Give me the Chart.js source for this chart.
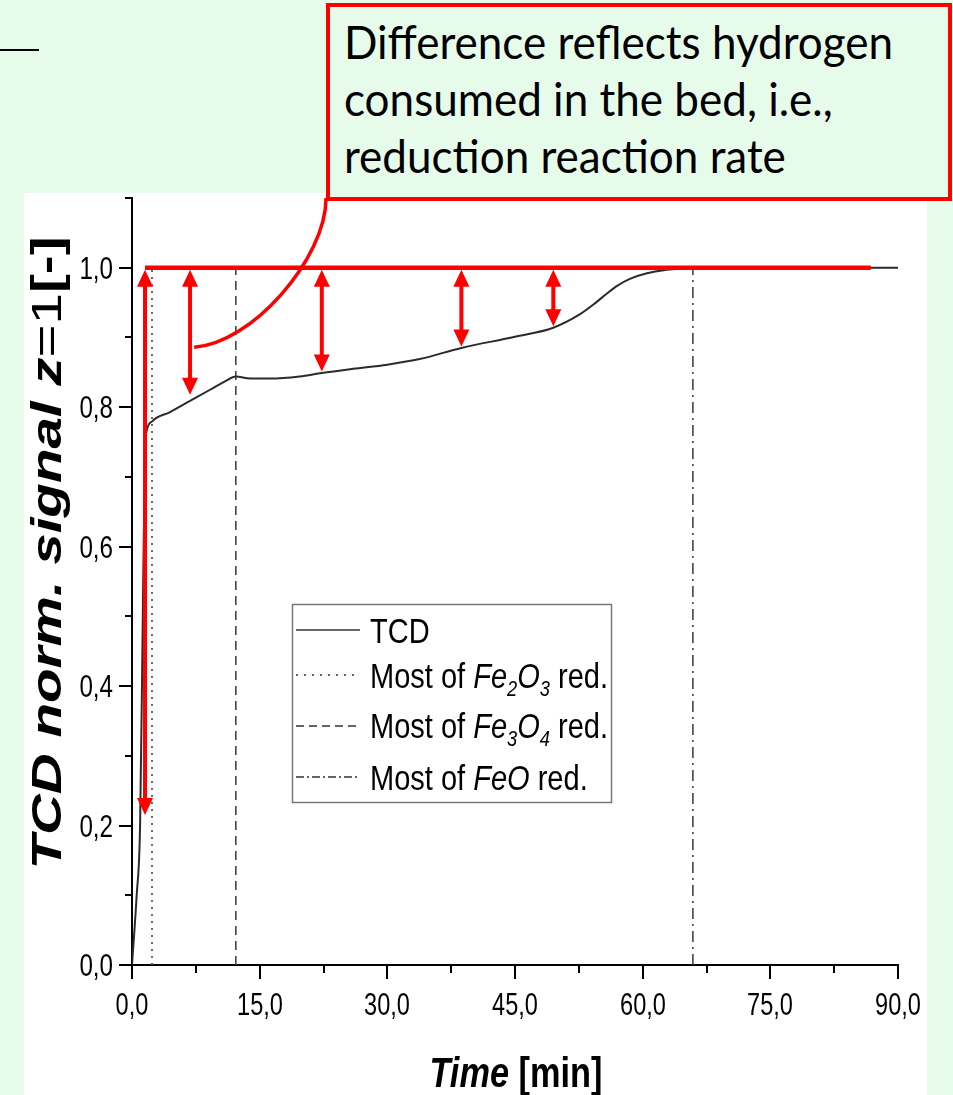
<!DOCTYPE html>
<html>
<head>
<meta charset="utf-8">
<script src="https://cdn.jsdelivr.net/npm/chart.js@4.4.1/dist/chart.umd.min.js"></script>
<style>
  html, body { margin: 0; padding: 0; }
  body { width: 953px; height: 1095px; background: #e7fbeb; position: relative; overflow: hidden; }
  #topline { position: absolute; left: 0; top: 49px; width: 39px; height: 2px; background: #000; }
  #panel { position: absolute; left: 24px; top: 193px; width: 903px; height: 902px; background: #fff; }
  #callout { position: absolute; left: 326px; top: 3px; width: 626px; height: 198px; box-sizing: border-box;
             border: 4px solid #ff0000; background: #e7fbeb; }
  #callout .ln { position: absolute; left: 14px; font-family: Lato, "Open Sans", sans-serif; font-size: 46px;
                 line-height: 57px; white-space: nowrap; transform-origin: 0 0; color: #000; }
  #c { position: absolute; left: 0; top: 0; }
</style>
</head>
<body>
<div id="topline"></div>
<div id="panel"></div>
<div id="callout">
  <div class="ln" style="top:6px"><span>Difference reflects hydrogen</span></div>
  <div class="ln" style="top:63px"><span>consumed in the bed, i.e.,</span></div>
  <div class="ln" style="top:120px"><span>reduction reaction rate</span></div>
</div>
<canvas id="c" width="953" height="1095"></canvas>
<script>
// 数据
const tcdTime   = [0, 0.55, 0.95, 1.25, 1.53, 1.72, 2.4, 4.47, 6.82, 9.17, 10.93, 12.2, 13.87, 16.2, 19.7, 22.3, 26, 30, 33.8, 38.7, 45, 49.5, 52.6, 54.5, 55.8, 57.0, 58.5, 60.5, 62.8, 64.4, 66, 75, 90];
const tcdSignal = [0, 0.10, 0.20, 0.48, 0.739, 0.766, 0.780, 0.793, 0.809, 0.825, 0.837, 0.844, 0.841, 0.841, 0.844, 0.849, 0.855, 0.861, 0.869, 0.885, 0.901, 0.914, 0.933, 0.950, 0.963, 0.974, 0.984, 0.992, 0.997, 0.999, 1.0, 1.0, 1.0];

// 各阶段结束时间: Fe2O3, Fe3O4, FeO
const stageTimes = [2.35, 12.2, 65.9];
const stageDash = [[2, 5], [9, 6], [11, 5, 2, 5]];

// 红色参考线 (y = 1)
const refLevel = 1.0;
const refStart = 1.53;
const refEnd = 86.8;

// 双向箭头
const arrowTimes = [1.53, 6.82, 22.3, 38.7, 49.5];
const arrowLows  = [0.215, 0.818, 0.851, 0.887, 0.916];

// 标注框引线 (bezier, 数据坐标)
const calloutPath = [[7.3, 0.886], [13.9, 0.89], [22.8, 1.012], [22.8, 1.10]];

// 坐标轴
const xMin = 0, xMax = 90, xStep = 7.5, xMajor = 15;
const yMin = 0, yMax = 1.1, yStep = 0.1;

const legendRows = [
  [{ t: 'TCD' }],
  [{ t: 'Most of ' }, { t: 'Fe', i: 1 }, { t: '2', i: 1, sub: 1 }, { t: 'O', i: 1 }, { t: '3', i: 1, sub: 1 }, { t: ' red.' }],
  [{ t: 'Most of ' }, { t: 'Fe', i: 1 }, { t: '3', i: 1, sub: 1 }, { t: 'O', i: 1 }, { t: '4', i: 1, sub: 1 }, { t: ' red.' }],
  [{ t: 'Most of ' }, { t: 'FeO', i: 1 }, { t: ' red.' }]
];
const legendDash = [[], [2, 6], [8, 5], [8, 3, 2, 3]];

const FONT = '"Liberation Sans", Arial, sans-serif';

// 把标注框文字压缩到原图宽度
(function fitCallout() {
  const spans = document.querySelectorAll('#callout .ln span');
  const k = 549 / spans[0].getBoundingClientRect().width;
  document.querySelectorAll('#callout .ln').forEach(d => d.style.transform = `scaleX(${k})`);
})();

function fontOf(r, size) {
  const s = r.sub ? Math.round(size * 0.62) : size;
  return (r.i ? 'italic ' : '') + (r.b ? 'bold ' : '') + s + 'px ' + FONT;
}
function runsWidth(ctx, runs, size) {
  let w = 0;
  for (const r of runs) { ctx.font = fontOf(r, size); w += ctx.measureText(r.t).width; }
  return w;
}
function drawRuns(ctx, runs, x, y, size, opt) {
  const w = runsWidth(ctx, runs, size);
  const k = opt.fit ? opt.fit / w : (opt.squeeze || 1);
  ctx.save();
  ctx.translate(x, y);
  if (opt.rotate) ctx.rotate(opt.rotate);
  ctx.scale(k, 1);
  let cx = opt.align === 'center' ? -w / 2 : opt.align === 'right' ? -w : 0;
  ctx.textAlign = 'left';
  ctx.textBaseline = 'alphabetic';
  ctx.fillStyle = '#000';
  for (const r of runs) {
    ctx.font = fontOf(r, size);
    ctx.fillText(r.t, cx, r.sub ? size * 0.24 : 0);
    cx += ctx.measureText(r.t).width;
  }
  ctx.restore();
  return k;
}
function fmt(v) { return v.toFixed(1).replace('.', ','); }

function arrowHead(ctx, x, tipY, dir) {
  // dir = -1 朝上, 1 朝下
  ctx.beginPath();
  ctx.moveTo(x, tipY);
  ctx.lineTo(x - 8, tipY - dir * 17);
  ctx.lineTo(x + 8, tipY - dir * 17);
  ctx.closePath();
  ctx.fill();
}

const decor = {
  id: 'decor',
  afterDraw(chart) {
    const ctx = chart.ctx;
    const xs = chart.scales.x, ys = chart.scales.y;
    const area = chart.chartArea;

    // 刻度线 + 刻度标签
    ctx.save();
    ctx.strokeStyle = '#000';
    ctx.lineWidth = 2;
    for (const t of xs.ticks) {
      const px = Math.round(xs.getPixelForValue(t.value));
      const major = Math.abs(t.value / xMajor - Math.round(t.value / xMajor)) < 1e-6;
      ctx.beginPath();
      ctx.moveTo(px, area.bottom);
      ctx.lineTo(px, area.bottom + (major ? 14 : 8));
      ctx.stroke();
      if (major) drawRuns(ctx, [{ t: fmt(t.value) }], px, 1015, 31, { squeeze: 0.76, align: 'center' });
    }
    for (const t of ys.ticks) {
      const py = Math.round(ys.getPixelForValue(t.value));
      const major = Math.round(t.value * 10) % 2 === 0;
      ctx.beginPath();
      ctx.moveTo(area.left, py);
      ctx.lineTo(area.left - (major ? 13 : 7), py);
      ctx.stroke();
      if (major) drawRuns(ctx, [{ t: fmt(t.value) }], 113, py + 11, 31, { squeeze: 0.78, align: 'right' });
    }
    ctx.restore();

    // 双向箭头
    ctx.save();
    ctx.strokeStyle = '#ff0000';
    ctx.fillStyle = '#ff0000';
    ctx.lineWidth = 4;
    const yTop = ys.getPixelForValue(refLevel) + 2;
    arrowTimes.forEach((t, i) => {
      const px = xs.getPixelForValue(t);
      const yb = ys.getPixelForValue(arrowLows[i]);
      ctx.beginPath();
      ctx.moveTo(px, yTop + 12);
      ctx.lineTo(px, yb - 12);
      ctx.stroke();
      arrowHead(ctx, px, yTop, -1);
      arrowHead(ctx, px, yb, 1);
    });

    // 引线
    const p = calloutPath.map(([a, b]) => [xs.getPixelForValue(a), ys.getPixelForValue(b)]);
    ctx.lineWidth = 3.5;
    ctx.beginPath();
    ctx.moveTo(p[0][0], p[0][1]);
    ctx.bezierCurveTo(p[1][0], p[1][1], p[2][0], p[2][1], p[3][0], p[3][1]);
    ctx.stroke();
    ctx.restore();

    // 图例
    ctx.save();
    ctx.strokeStyle = '#777';
    ctx.lineWidth = 1.5;
    ctx.strokeRect(292.5, 604.5, 319, 198);
    const baselines = [643, 688, 738, 790];
    const sampleY = [630, 675, 726, 777];
    const k = runsWidth(ctx, legendRows[1], 35);
    const sq = 238 / k;
    legendRows.forEach((runs, i) => {
      ctx.strokeStyle = '#333';
      ctx.lineWidth = 1.6;
      ctx.setLineDash(legendDash[i]);
      ctx.beginPath();
      ctx.moveTo(296, sampleY[i]);
      ctx.lineTo(360, sampleY[i]);
      ctx.stroke();
      ctx.setLineDash([]);
      drawRuns(ctx, runs, 370, baselines[i], 35, { squeeze: sq, align: 'left' });
    });
    ctx.restore();

    // 轴标题
    drawRuns(ctx, [{ t: 'Time', b: 1, i: 1 }, { t: ' [min]', b: 1 }], 516, 1087, 42, { fit: 173, align: 'center' });
    drawRuns(ctx, [{ t: 'TCD norm. signal ', b: 1, i: 1 }, { t: 'z', b: 1, i: 1 }, { t: '=1', }, { t: '[-]', b: 1 }],
      61, 553, 43, { fit: 633, align: 'center', rotate: -Math.PI / 2 });
  }
};

const tcdPoints = tcdTime.map((t, i) => ({ x: t, y: tcdSignal[i] }));
const stageSets = stageTimes.map((t, i) => ({
  data: [{ x: t, y: 0 }, { x: t, y: refLevel }],
  borderColor: '#444',
  borderWidth: 1.6,
  borderDash: stageDash[i],
  pointRadius: 0,
  order: 3
}));

new Chart(document.getElementById('c'), {
  type: 'line',
  data: {
    datasets: [
      {
        data: [{ x: refStart, y: refLevel }, { x: refEnd, y: refLevel }],
        borderColor: '#ff0000',
        borderWidth: 4.5,
        pointRadius: 0,
        order: 0
      },
      {
        data: tcdPoints,
        borderColor: '#2b2b2b',
        borderWidth: 2,
        pointRadius: 0,
        cubicInterpolationMode: 'monotone',
        order: 1
      },
      ...stageSets
    ]
  },
  options: {
    responsive: false,
    animation: false,
    layout: { padding: { left: 0, right: 55, top: 198, bottom: 0 } },
    plugins: { legend: { display: false }, tooltip: { enabled: false } },
    scales: {
      x: {
        type: 'linear', min: xMin, max: xMax,
        ticks: { stepSize: xStep, display: false },
        grid: { display: false },
        border: { color: '#000', width: 2 },
        afterFit: s => { s.height = 130; }
      },
      y: {
        type: 'linear', min: yMin, max: yMax,
        ticks: { stepSize: yStep, display: false },
        grid: { display: false },
        border: { color: '#000', width: 2 },
        afterFit: s => { s.width = 132; }
      }
    }
  },
  plugins: [decor]
});
</script>
</body>
</html>
